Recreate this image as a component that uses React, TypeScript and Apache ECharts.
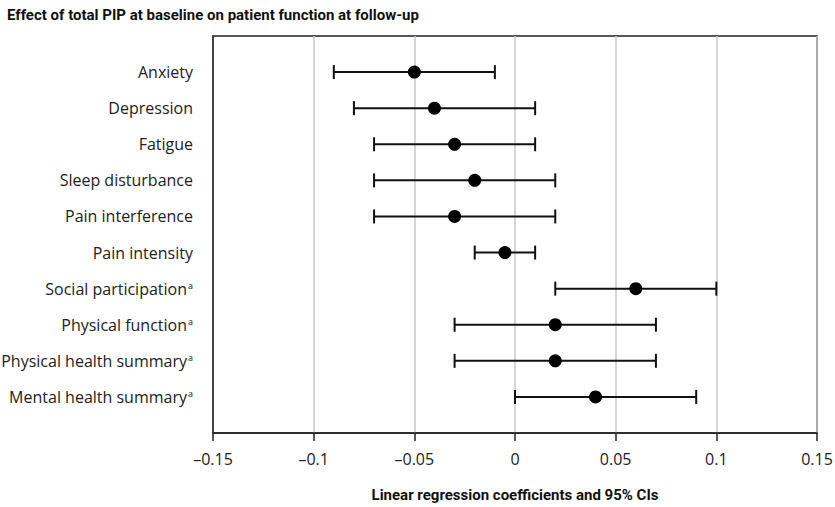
import React, { useEffect, useRef } from "react";
import * as echarts from "echarts";

const outcomes = [
  "Anxiety",
  "Depression",
  "Fatigue",
  "Sleep disturbance",
  "Pain interference",
  "Pain intensity",
  "Social participation",
  "Physical function",
  "Physical health summary",
  "Mental health summary",
];
const superscriptA = [false, false, false, false, false, false, true, true, true, true];
const estimates = [-0.05, -0.04, -0.03, -0.02, -0.03, -0.005, 0.06, 0.02, 0.02, 0.04];
const lowerCI = [-0.09, -0.08, -0.07, -0.07, -0.07, -0.02, 0.02, -0.03, -0.03, 0.0];
const upperCI = [-0.01, 0.01, 0.01, 0.02, 0.02, 0.01, 0.1, 0.07, 0.07, 0.09];
const xTicks = [-0.15, -0.1, -0.05, 0, 0.05, 0.1, 0.15];

const FONT = "Open Sans";
const BOLD_FONT = "Roboto";

export default function App() {
  const ref = useRef<HTMLDivElement>(null);
  useEffect(() => {
    if (!ref.current) return;
    const chart = echarts.init(ref.current, undefined, { renderer: "svg" });
    const cats = ["", ...outcomes, ""];
    const ciData = outcomes.map((_, i) => [i + 1, lowerCI[i], estimates[i], upperCI[i]]);
    const ptData = outcomes.map((_, i) => [estimates[i], i + 1]);
    chart.setOption({
      animation: false,
      title: {
        text: "Effect of total PIP at baseline on patient function at follow-up",
        left: 2,
        top: 2,
        textStyle: { fontFamily: BOLD_FONT, fontWeight: "bold", fontSize: 15, color: "#111" },
      },
      grid: {
        left: 213,
        right: 18,
        top: 36,
        bottom: 74,
        outerBoundsMode: "none",
        containLabel: false,
        show: true,
        borderColor: "#222",
        borderWidth: 1.5,
        backgroundColor: "transparent",
      },
      xAxis: {
        type: "value",
        min: -0.15,
        max: 0.15,
        interval: 0.05,
        name: "Linear regression coefficients and 95% CIs",
        nameLocation: "middle",
        nameGap: 54,
        nameTextStyle: { fontFamily: BOLD_FONT, fontWeight: "bold", fontSize: 15, color: "#111" },
        axisLine: { show: true, onZero: false, lineStyle: { color: "#222", width: 1.5 } },
        axisTick: { show: true, length: 8, lineStyle: { color: "#222", width: 1.5 } },
        axisLabel: {
          fontFamily: FONT,
          fontSize: 16,
          color: "#222",
          margin: 18,
          formatter: (v: number) => {
            const t = xTicks.find((x) => Math.abs(x - v) < 1e-9);
            const val = t === undefined ? v : t;
            const s = String(Math.round(val * 100) / 100);
            return s.replace("-", "\u2013");
          },
        },
        splitLine: { show: true, lineStyle: { color: "#c8c8c8", width: 1.5 } },
      },
      yAxis: {
        type: "category",
        data: cats,
        inverse: true,
        boundaryGap: false,
        axisLine: { show: true, onZero: false, lineStyle: { color: "#222", width: 1.5 } },
        axisTick: { show: false },
        splitLine: { show: false },
        axisLabel: {
          interval: 0,
          margin: 20,
          fontFamily: FONT,
          fontSize: 16,
          color: "#222",
          formatter: (v: string) => {
            const i = outcomes.indexOf(v);
            if (i < 0) return "";
            return superscriptA[i] ? `{n|${v}}{s|a}` : `{n|${v}}`;
          },
          rich: {
            n: { fontFamily: FONT, fontSize: 16, color: "#222" },
            s: { fontFamily: FONT, fontSize: 9, color: "#222", verticalAlign: "top", padding: [0, 0, 7, 1] },
          },
        },
      },
      series: [
        {
          type: "custom",
          data: ciData,
          encode: { x: [1, 2, 3], y: 0 },
          renderItem: (params: any, api: any) => {
            const y = api.value(0);
            const lo = api.coord([api.value(1), y]);
            const hi = api.coord([api.value(3), y]);
            const h = 7;
            const style = { stroke: "#111", lineWidth: 2, fill: "none" };
            return {
              type: "group",
              children: [
                { type: "line", shape: { x1: lo[0], y1: lo[1], x2: hi[0], y2: hi[1] }, style },
                { type: "line", shape: { x1: lo[0], y1: lo[1] - h, x2: lo[0], y2: lo[1] + h }, style },
                { type: "line", shape: { x1: hi[0], y1: hi[1] - h, x2: hi[0], y2: hi[1] + h }, style },
              ],
            };
          },
          z: 2,
        },
        {
          type: "scatter",
          data: ptData,
          symbol: "circle",
          symbolSize: 13,
          itemStyle: { color: "#000", opacity: 1 },
          z: 3,
        },
      ],
    });
    return () => chart.dispose();
  }, []);
  return <div ref={ref} style={{ position: "absolute", left: 0, top: 0, width: 835, height: 507 }} />;
}
